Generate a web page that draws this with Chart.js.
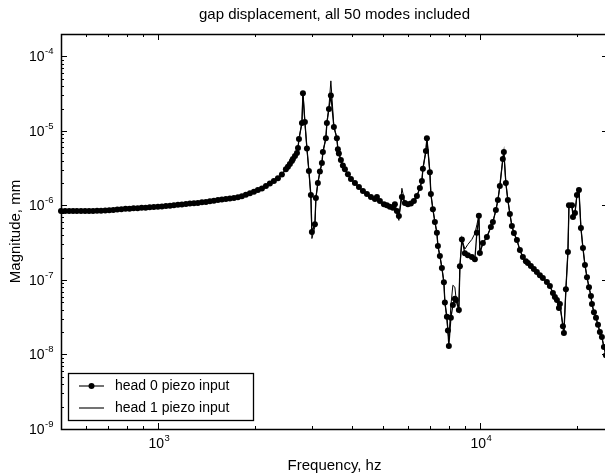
<!DOCTYPE html>
<html>
<head>
<meta charset="utf-8">
<script src="https://cdn.jsdelivr.net/npm/chart.js"></script>
<style>
  html, body { margin: 0; padding: 0; background: #fff; overflow: hidden; }
  #wrap { width: 605px; height: 475px; overflow: hidden; }
</style>
</head>
<body>
<div id="wrap"><canvas id="grafico" width="612" height="475"></canvas></div>
<script>
/*************************************************
 * DADOS
 *************************************************/
const tituloGrafico = 'gap displacement, all 50 modes included';
const tituloX = 'Frequency, hz';
const tituloY = 'Magnitude, mm';
const nomesSeries = ['head 0 piezo input', 'head 1 piezo input'];

const limitesX = [500, 25000];
const limitesY = [1e-9, 2e-4];
const expoentesX = [3, 4];
const expoentesY = [-9, -8, -7, -6, -5, -4];

const freqHz = [
  500, 515, 530, 545, 560, 577, 594, 611, 629, 647,
  666, 686, 706, 727, 748, 770, 793, 816, 840, 865,
  890, 916, 943, 971, 1000, 1029, 1059, 1090, 1121, 1154,
  1187, 1222, 1257, 1294, 1331, 1370, 1410, 1450, 1492, 1536,
  1580, 1626, 1673, 1722, 1772, 1823, 1876, 1931, 1987, 2044,
  2104, 2165, 2227, 2292, 2359, 2427, 2497, 2534, 2570, 2607,
  2626, 2665, 2703, 2723, 2742, 2801, 2821, 2861, 2903, 2944,
  2986, 3008, 3073, 3095, 3139, 3185, 3231, 3254, 3324, 3348,
  3397, 3445, 3520, 3596, 3622, 3648, 3701, 3754, 3809, 3892,
  3977, 4092, 4211, 4333, 4459, 4588, 4721, 4789, 4892, 5034,
  5143, 5254, 5367, 5445, 5523, 5603, 5725, 5849, 5976, 6106,
  6238, 6374, 6511, 6605, 6653, 6798, 6846, 6993, 7044, 7146,
  7249, 7354, 7407, 7512, 7621, 7731, 7786, 7899, 7956, 8010,
  8126, 8243, 8362, 8422, 8604, 8668, 8793, 8983, 9177, 9443,
  9648, 9787, 9928, 10000, 10217, 10514, 10818, 10974, 11213, 11374,
  11534, 11783, 11871, 12041, 12216, 12395, 12573, 12755, 13032, 13313,
  13601, 13897, 14097, 14400, 14710, 15030, 15360, 15690, 16150, 16500,
  16860, 17100, 17350, 17600, 17720, 18110, 18240, 18500, 18770, 18910,
  19320, 19460, 19740, 20020, 20310, 20600, 20900, 21200, 21510, 21820,
  22130, 22290, 22610, 22940, 23270, 23590, 23930, 24280, 24630
];

const head0Mag = [
  8.4e-7, 8.4e-7, 8.4e-7, 8.4e-7, 8.4e-7, 8.4e-7, 8.4e-7, 8.45e-7, 8.45e-7, 8.5e-7,
  8.5e-7, 8.55e-7, 8.6e-7, 8.7e-7, 8.8e-7, 8.9e-7, 9.0e-7, 9.05e-7, 9.15e-7, 9.2e-7,
  9.3e-7, 9.35e-7, 9.45e-7, 9.5e-7, 9.6e-7, 9.7e-7, 9.8e-7, 9.9e-7, 1.01e-6, 1.02e-6,
  1.03e-6, 1.05e-6, 1.06e-6, 1.07e-6, 1.08e-6, 1.10e-6, 1.11e-6, 1.14e-6, 1.16e-6, 1.18e-6,
  1.20e-6, 1.22e-6, 1.24e-6, 1.26e-6, 1.29e-6, 1.33e-6, 1.39e-6, 1.46e-6, 1.53e-6, 1.61e-6,
  1.69e-6, 1.82e-6, 1.97e-6, 2.13e-6, 2.31e-6, 2.61e-6, 3.06e-6, 3.32e-6, 3.6e-6, 3.95e-6,
  4.2e-6, 4.6e-6, 5.05e-6, 5.9e-6, 7.8e-6, 1.28e-5, 3.2e-5, 1.32e-5, 5.8e-6, 2.9e-6,
  1.38e-6, 4.4e-7, 5.6e-7, 1.26e-6, 2.0e-6, 2.85e-6, 3.7e-6, 5.2e-6, 8.0e-6, 1.28e-5,
  1.97e-5, 3.0e-5, 1.13e-5, 8.0e-6, 5.7e-6, 5.0e-6, 4.07e-6, 3.45e-6, 3.06e-6, 2.63e-6,
  2.26e-6, 2.0e-6, 1.77e-6, 1.56e-6, 1.42e-6, 1.30e-6, 1.22e-6, 1.30e-6, 1.15e-6, 1.04e-6,
  1.01e-6, 9.6e-7, 9.3e-7, 1.04e-6, 8.4e-7, 7.2e-7, 1.30e-6, 1.08e-6, 1.04e-6, 1.06e-6,
  1.15e-6, 1.34e-6, 1.72e-6, 2.13e-6, 3.1e-6, 5.4e-6, 8.0e-6, 2.8e-6, 1.42e-6, 8.9e-7,
  6.0e-7, 4.3e-7, 2.85e-7, 2.1e-7, 1.45e-7, 9.3e-8, 5.0e-8, 3.2e-8, 2.1e-8, 1.3e-8,
  3.1e-8, 4.6e-8, 5.6e-8, 5.4e-8, 3.95e-8, 1.53e-7, 3.5e-7, 2.28e-7, 2.15e-7, 2.03e-7,
  1.9e-7, 4.3e-7, 7.3e-7, 2.3e-7, 3.13e-7, 3.77e-7, 5.13e-7, 5.98e-7, 8.67e-7, 1.18e-6,
  1.82e-6, 4.2e-6, 5.2e-6, 2.0e-6, 1.18e-6, 7.7e-7, 5.3e-7, 4.27e-7, 3.44e-7, 2.52e-7,
  2.03e-7, 1.79e-7, 1.69e-7, 1.54e-7, 1.40e-7, 1.28e-7, 1.16e-7, 1.06e-7, 9.4e-8, 8.3e-8,
  6.7e-8, 5.9e-8, 5.37e-8, 4.2e-8, 4.75e-8, 2.4e-8, 1.94e-8, 7.5e-8, 2.37e-7, 1.01e-6,
  1.01e-6, 7.0e-7, 7.9e-7, 1.38e-6, 1.61e-6, 4.98e-7, 2.68e-7, 1.59e-7, 1.09e-7, 8.0e-8,
  6.1e-8, 4.75e-8, 3.7e-8, 3.1e-8, 2.5e-8, 2.0e-8, 1.71e-8, 1.26e-8, 9.8e-9
];

const head1Mag = [
  8.4e-7, 8.4e-7, 8.4e-7, 8.4e-7, 8.4e-7, 8.4e-7, 8.4e-7, 8.45e-7, 8.45e-7, 8.5e-7,
  8.5e-7, 8.55e-7, 8.6e-7, 8.7e-7, 8.8e-7, 8.9e-7, 9.0e-7, 9.05e-7, 9.15e-7, 9.2e-7,
  9.3e-7, 9.35e-7, 9.45e-7, 9.5e-7, 9.6e-7, 9.7e-7, 9.8e-7, 9.9e-7, 1.01e-6, 1.02e-6,
  1.03e-6, 1.05e-6, 1.06e-6, 1.07e-6, 1.08e-6, 1.10e-6, 1.11e-6, 1.14e-6, 1.16e-6, 1.18e-6,
  1.20e-6, 1.22e-6, 1.24e-6, 1.26e-6, 1.29e-6, 1.33e-6, 1.39e-6, 1.46e-6, 1.53e-6, 1.61e-6,
  1.69e-6, 1.82e-6, 1.97e-6, 2.13e-6, 2.31e-6, 2.61e-6, 3.06e-6, 3.32e-6, 3.6e-6, 3.95e-6,
  4.2e-6, 4.6e-6, 5.05e-6, 5.9e-6, 7.8e-6, 1.3e-5, 3.4e-5, 1.3e-5, 5.8e-6, 2.9e-6,
  1.3e-6, 3.6e-7, 5.2e-7, 1.26e-6, 2.0e-6, 2.85e-6, 3.7e-6, 5.2e-6, 8.0e-6, 1.3e-5,
  2.1e-5, 4.7e-5, 1.15e-5, 8.0e-6, 5.7e-6, 5.0e-6, 4.07e-6, 3.45e-6, 3.06e-6, 2.63e-6,
  2.26e-6, 2.0e-6, 1.77e-6, 1.56e-6, 1.42e-6, 1.30e-6, 1.22e-6, 1.28e-6, 1.15e-6, 1.04e-6,
  1.01e-6, 9.6e-7, 9.0e-7, 9.5e-7, 8.0e-7, 6.3e-7, 1.7e-6, 1.08e-6, 1.04e-6, 1.06e-6,
  1.15e-6, 1.34e-6, 1.72e-6, 2.13e-6, 3.1e-6, 5.4e-6, 8.0e-6, 2.8e-6, 1.42e-6, 8.9e-7,
  6.0e-7, 4.3e-7, 2.85e-7, 2.1e-7, 1.45e-7, 9.3e-8, 5.0e-8, 3.0e-8, 2.0e-8, 1.6e-8,
  4.5e-8, 8.5e-8, 8.0e-8, 6.0e-8, 4.2e-8, 1.53e-7, 3.5e-7, 2.6e-7, 3.0e-7, 3.5e-7,
  4.2e-7, 5.5e-7, 7.3e-7, 2.3e-7, 3.13e-7, 3.77e-7, 5.13e-7, 5.98e-7, 8.67e-7, 1.18e-6,
  1.82e-6, 4.2e-6, 5.2e-6, 2.0e-6, 1.18e-6, 7.7e-7, 5.3e-7, 4.27e-7, 3.44e-7, 2.52e-7,
  2.03e-7, 1.79e-7, 1.69e-7, 1.54e-7, 1.40e-7, 1.28e-7, 1.16e-7, 1.06e-7, 9.4e-8, 8.3e-8,
  6.7e-8, 5.9e-8, 5.37e-8, 4.2e-8, 4.75e-8, 2.4e-8, 1.94e-8, 7.5e-8, 2.37e-7, 1.01e-6,
  1.01e-6, 7.0e-7, 7.9e-7, 1.38e-6, 1.61e-6, 4.98e-7, 2.68e-7, 1.59e-7, 1.09e-7, 8.0e-8,
  6.1e-8, 4.75e-8, 3.7e-8, 3.1e-8, 2.5e-8, 2.0e-8, 1.71e-8, 1.26e-8, 9.8e-9
];

/*************************************************
 * ESTILO
 *************************************************/
const FONTE = '"Liberation Sans", Arial, Helvetica, sans-serif';

function pontos(valores) {
  return freqHz.map((f, i) => ({ x: f, y: valores[i] }));
}

function textoPotencia(ctx, expoente, x, y, alinhamento) {
  // escreve "10" com o expoente sobrescrito
  const sup = String(expoente);
  ctx.font = '9.5px ' + FONTE;
  const wSup = ctx.measureText(sup).width;
  ctx.font = '14px ' + FONTE;
  const wBase = ctx.measureText('10').width;
  const xb = alinhamento === 'right' ? x - wSup - wBase : x - (wBase + wSup) / 2;
  ctx.textAlign = 'left';
  ctx.textBaseline = 'middle';
  ctx.fillText('10', xb, y);
  ctx.font = '9.5px ' + FONTE;
  ctx.fillText(sup, xb + wBase + 0.5, y - 6);
}

/*************************************************
 * PLUGIN: MOLDURA, MARCAS, RÓTULOS, LEGENDA
 *************************************************/
const molduraPlugin = {
  id: 'moldura',
  afterDraw(chart) {
    const { ctx, chartArea: a } = chart;
    const xs = chart.scales.x;
    const ys = chart.scales.y;

    ctx.save();
    ctx.strokeStyle = '#000';
    ctx.fillStyle = '#000';
    ctx.lineWidth = 1;

    // marcas do eixo x (em cima e embaixo)
    ctx.beginPath();
    for (let e = 2; e <= 5; e++) {
      for (let k = 1; k <= 9; k++) {
        const v = k * Math.pow(10, e);
        if (v < xs.min * 0.999 || v > xs.max * 1.001) continue;
        const x = Math.round(xs.getPixelForValue(v)) + 0.5;
        const len = k === 1 ? 6 : 3;
        ctx.moveTo(x, a.bottom);
        ctx.lineTo(x, a.bottom - len);
        ctx.moveTo(x, a.top);
        ctx.lineTo(x, a.top + len);
      }
    }
    // marcas do eixo y (esquerda e direita)
    for (let e = -10; e <= -3; e++) {
      for (let k = 1; k <= 9; k++) {
        const v = k * Math.pow(10, e);
        if (v < ys.min * 0.999 || v > ys.max * 1.001) continue;
        const y = Math.round(ys.getPixelForValue(v)) + 0.5;
        const len = k === 1 ? 6 : 3;
        ctx.moveTo(a.left, y);
        ctx.lineTo(a.left + len, y);
        ctx.moveTo(a.right, y);
        ctx.lineTo(a.right - len, y);
      }
    }
    ctx.stroke();

    // moldura
    ctx.lineWidth = 1.5;
    ctx.strokeRect(Math.round(a.left) + 0.5, Math.round(a.top) + 0.5,
      Math.round(a.right - a.left), Math.round(a.bottom - a.top));

    // rótulos das décadas
    expoentesX.forEach(ex => {
      const x = xs.getPixelForValue(Math.pow(10, ex));
      textoPotencia(ctx, ex, x + 1, a.bottom + 15, 'center');
    });
    expoentesY.forEach(ex => {
      const y = ys.getPixelForValue(Math.pow(10, ex));
      textoPotencia(ctx, ex, a.left - 8, y + 1, 'right');
    });

    // título
    ctx.font = '15px ' + FONTE;
    ctx.textAlign = 'center';
    ctx.textBaseline = 'middle';
    ctx.fillText(tituloGrafico, (a.left + a.right) / 2, 15);

    // legenda
    const lx = a.left + 7, ly = a.bottom - 56, lw = 185, lh = 47;
    ctx.fillStyle = '#fff';
    ctx.fillRect(lx, ly, lw, lh);
    ctx.lineWidth = 1.3;
    ctx.strokeRect(lx + 0.5, ly + 0.5, lw, lh);
    ctx.fillStyle = '#000';
    const linhas = [ly + 13, ly + 35];
    linhas.forEach((yy, i) => {
      ctx.beginPath();
      ctx.lineWidth = 1.1;
      ctx.moveTo(lx + 11, yy);
      ctx.lineTo(lx + 36, yy);
      ctx.stroke();
      if (i === 0) {
        ctx.beginPath();
        ctx.arc(lx + 23.5, yy, 3, 0, Math.PI * 2);
        ctx.fill();
      }
      ctx.font = '14px ' + FONTE;
      ctx.textAlign = 'left';
      ctx.textBaseline = 'middle';
      ctx.fillText(nomesSeries[i], lx + 47, yy + 0.5);
    });

    ctx.restore();
  }
};

/*************************************************
 * GRÁFICO
 *************************************************/
new Chart(document.getElementById('grafico').getContext('2d'), {
  type: 'line',
  data: {
    datasets: [
      {
        label: nomesSeries[0],
        data: pontos(head0Mag),
        borderColor: '#000',
        borderWidth: 1.3,
        pointRadius: 3,
        pointHoverRadius: 3,
        pointBackgroundColor: '#000',
        pointBorderWidth: 0,
        tension: 0,
        clip: 4
      },
      {
        label: nomesSeries[1],
        data: pontos(head1Mag),
        borderColor: '#000',
        borderWidth: 1,
        pointRadius: 0,
        tension: 0,
        clip: 4
      }
    ]
  },
  options: {
    responsive: false,
    animation: false,
    devicePixelRatio: 1,
    layout: { padding: { top: 34, right: 4, left: 0, bottom: 0 } },
    plugins: {
      legend: { display: false },
      tooltip: { enabled: false },
      title: { display: false }
    },
    scales: {
      x: {
        type: 'logarithmic',
        min: limitesX[0],
        max: limitesX[1],
        grid: { display: false },
        border: { display: false },
        ticks: { display: false },
        title: {
          display: true,
          text: tituloX,
          color: '#000',
          font: { family: FONTE, size: 15 },
          padding: { top: 0, bottom: 0 }
        },
        afterFit: s => { s.height = 46; }
      },
      y: {
        type: 'logarithmic',
        min: limitesY[0],
        max: limitesY[1],
        grid: { display: false },
        border: { display: false },
        ticks: { display: false },
        title: {
          display: true,
          text: tituloY,
          color: '#000',
          font: { family: FONTE, size: 15 },
          padding: { top: 7, bottom: 0 }
        },
        afterFit: s => { s.width = 61; }
      }
    }
  },
  plugins: [molduraPlugin]
});
</script>
</body>
</html>
